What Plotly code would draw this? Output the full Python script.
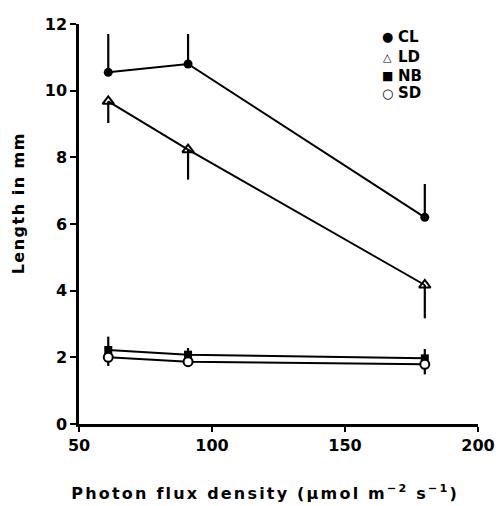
import plotly.graph_objects as go

x_vals = [61, 91, 180]
cl = [10.55, 10.8, 6.2]
cl_err_up = [1.15, 0.9, 1.0]
ld = [9.68, 8.23, 4.17]
ld_err_down = [0.65, 0.9, 1.0]
nb = [2.22, 2.08, 1.97]
nb_err_up = [0.4, 0.2, 0.28]
sd = [2.0, 1.87, 1.79]
sd_err_down = [0.26, 0.0, 0.3]

legend_names = ["CL", "LD", "NB", "SD"]
legend_symbols = ["●", "△", "■", "○"]
x_ticks = [50, 100, 150, 200]
y_ticks = [0, 2, 4, 6, 8, 10, 12]

series = [
    ("CL", cl, cl_err_up, [0, 0, 0], dict(symbol="circle", size=9, color="black")),
    ("LD", ld, [0, 0, 0], ld_err_down, dict(symbol="triangle-up-open", size=10, color="black", line=dict(width=2, color="black"))),
    ("NB", nb, nb_err_up, [0, 0, 0], dict(symbol="square", size=8, color="black")),
    ("SD", sd, [0, 0, 0], sd_err_down, dict(symbol="circle", size=9, color="white", line=dict(width=2, color="black"))),
]

fig = go.Figure()
for name, ys, up, down, mk in series:
    fig.add_trace(go.Scatter(
        x=x_vals, y=ys, mode="lines+markers", name=name, showlegend=False,
        line=dict(color="black", width=2), marker=mk,
        error_y=dict(type="data", symmetric=False, array=up, arrayminus=down,
                     color="black", thickness=2.2, width=0),
    ))

bold = "DejaVu Sans, Liberation Sans, Arial"
legend_y = [0.9675, 0.9175, 0.87, 0.8275]
legend_sym_size = [13, 11, 12, 13]
for sym, name, yy, ss in zip(legend_symbols, legend_names, legend_y, legend_sym_size):
    fig.add_annotation(xref="paper", yref="paper", x=0.772, y=yy, text=sym,
                       showarrow=False, xanchor="center", yanchor="middle",
                       font=dict(family=bold, size=ss, color="black"))
    fig.add_annotation(xref="paper", yref="paper", x=0.795, y=yy, text=name,
                       showarrow=False, xanchor="left", yanchor="middle",
                       font=dict(family=bold, size=15, color="black", weight="bold"))

fig.add_annotation(xref="paper", yref="paper", x=0.466, y=-0.17,
                   text="Photon flux density (μmol m<sup>−2</sup> s<sup>−1</sup>)",
                   showarrow=False, xanchor="center", yanchor="middle",
                   font=dict(family=bold, size=16, color="black", weight="bold"))
fig.add_annotation(xref="paper", yref="paper", x=-0.152, y=0.5525,
                   text="Length in mm", textangle=-90,
                   showarrow=False, xanchor="center", yanchor="middle",
                   font=dict(family=bold, size=16, color="black", weight="bold"))

fig.update_layout(
    width=496, height=506,
    margin=dict(l=79, r=18, t=24, b=82),
    plot_bgcolor="white", paper_bgcolor="white",
    font=dict(family=bold, color="black", size=16),
    showlegend=False,
    xaxis=dict(range=[50, 200], tickvals=x_ticks, showgrid=False, zeroline=False, automargin=False,
               showline=True, linecolor="black", linewidth=2.5, ticks="outside",
               ticklen=5, tickwidth=2, tickcolor="black",
               tickfont=dict(family=bold, size=16, weight="bold", color="black")),
    yaxis=dict(range=[0, 12], tickvals=y_ticks, showgrid=False, zeroline=False, automargin=False,
               showline=True, linecolor="black", linewidth=2.5, ticks="outside",
               ticklen=6, tickwidth=2, tickcolor="black",
               tickfont=dict(family=bold, size=16, weight="bold", color="black")),
)

post = """
document.body.style.margin='0';
document.querySelectorAll('.annotation-text').forEach(function(t){
  var s = t.textContent || '';
  if (s.indexOf('Photon') === 0) { t.style.letterSpacing = '2.2px'; }
  if (s.indexOf('Length') === 0) { t.style.letterSpacing = '1.5px'; }
});
"""
fig.write_html("out.html", post_script=post, config={"displayModeBar": False})
